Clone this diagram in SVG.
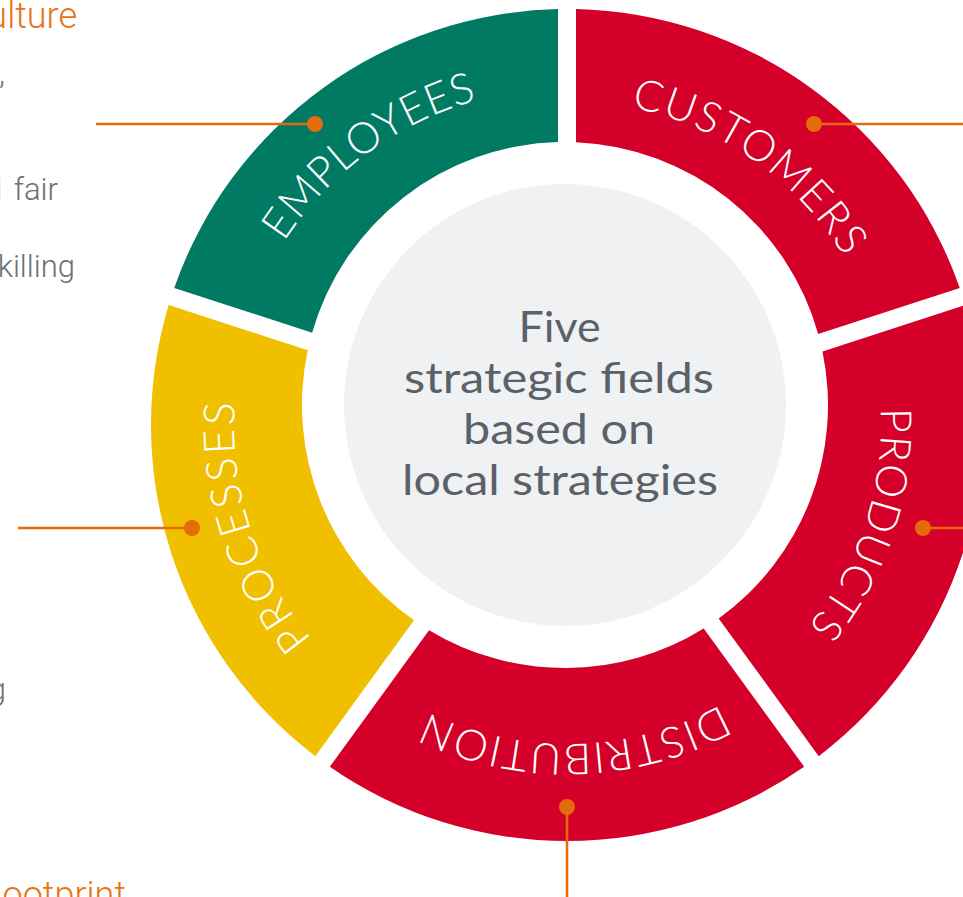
<svg xmlns="http://www.w3.org/2000/svg" xmlns:xlink="http://www.w3.org/1999/xlink" width="963" height="897" viewBox="0 0 963 897">
<style>
  .seg-label { font-family: Lato, "Open Sans", "DejaVu Sans", sans-serif; font-weight: 300; font-size: 43px; fill: #ffffff; }
  .center-text { font-family: Lato, "Open Sans", "DejaVu Sans", sans-serif; font-weight: 400; font-size: 42px; fill: #5B6168; text-anchor: middle; }
  .conn-line { stroke: #E46C0A; stroke-width: 2.6; fill: none; }
  .conn-dot { fill: #E46C0A; }
  .side { font-family: Roboto, "Liberation Sans", sans-serif; font-weight: 300; font-size: 31px; fill: #6D7075; text-anchor: end; }
  .side-head { font-family: Roboto, "Liberation Sans", sans-serif; font-weight: 300; font-size: 36px; fill: #E8741A; text-anchor: end; }
</style>
<defs>
  <path id="arc-employees" d="M264.9,574.3 A337,337 0 0 1 799.8,181.3"/>
  <path id="arc-customers" d="M338.3,195.5 A324,324 0 0 1 860.4,562.4"/>
  <path id="arc-products" d="M716.3,148.8 A314,314 0 0 1 521.1,735.6"/>
  <path id="arc-distribution" d="M882.5,472.2 A319,319 0 0 1 254.4,488.6"/>
  <path id="arc-processes" d="M613.9,754.7 A333,333 0 0 1 410.2,131.3"/>
</defs>

<g id="center">
  <circle cx="565" cy="405" r="221" fill="#F0F1F3"/>
  <text class="center-text" x="559.5" y="342" textLength="82" lengthAdjust="spacingAndGlyphs">Five</text>
  <text class="center-text" x="559" y="393" textLength="310" lengthAdjust="spacingAndGlyphs">strategic fields</text>
  <text class="center-text" x="559" y="444" textLength="192" lengthAdjust="spacingAndGlyphs">based on</text>
  <text class="center-text" x="560" y="495" textLength="316" lengthAdjust="spacingAndGlyphs">local strategies</text>
</g>

<g id="employees">
  <path d="M174.24,287.92 A416,416 0 0 1 558,9.1 L558,142.1 A263,263 0 0 0 312.13,332.72 Z" fill="#007A62"/>
  <text class="seg-label"><textPath xlink:href="#arc-employees" href="#arc-employees" startOffset="50%" text-anchor="middle" textLength="245" lengthAdjust="spacing">EMPLOYEES</textPath></text>
</g>

<g id="customers">
  <path d="M576,9.1 A416,416 0 0 1 959.76,287.92 L818.21,333.91 A263,263 0 0 0 576,142.2 Z" fill="#D40029"/>
  <text class="seg-label"><textPath xlink:href="#arc-customers" href="#arc-customers" startOffset="50%" text-anchor="middle" textLength="268" lengthAdjust="spacing">CUSTOMERS</textPath></text>
</g>

<g id="products">
  <path d="M965.33,305.04 A416,416 0 0 1 818.74,756.18 L718.66,618.44 A263,263 0 0 0 822.49,351.45 Z" fill="#D40029"/>
  <text class="seg-label"><textPath xlink:href="#arc-products" href="#arc-products" startOffset="50%" text-anchor="middle" textLength="235" lengthAdjust="spacing">PRODUCTS</textPath></text>
</g>

<g id="distribution">
  <path d="M804.18,766.76 A416,416 0 0 1 329.82,766.76 L429.07,630.15 A263,263 0 0 0 703.70,628.46 Z" fill="#D40029"/>
  <text class="seg-label"><textPath xlink:href="#arc-distribution" href="#arc-distribution" startOffset="50%" text-anchor="middle" textLength="304" lengthAdjust="spacing">DISTRIBUTION</textPath></text>
</g>

<g id="processes">
  <path d="M315.26,756.18 A416,416 0 0 1 168.67,305.04 L307.77,350.23 A263,263 0 0 0 413.97,620.31 Z" fill="#F0BF00"/>
  <text class="seg-label"><textPath xlink:href="#arc-processes" href="#arc-processes" startOffset="50%" text-anchor="middle" textLength="255" lengthAdjust="spacing">PROCESSES</textPath></text>
</g>

<g id="connectors">
  <line class="conn-line" x1="96" y1="124" x2="315" y2="124"/>
  <circle class="conn-dot" cx="315" cy="124" r="8"/>
  <line class="conn-line" x1="814" y1="124" x2="963" y2="124"/>
  <circle class="conn-dot" cx="814" cy="124" r="8"/>
  <line class="conn-line" x1="18" y1="528" x2="192" y2="528"/>
  <circle class="conn-dot" cx="192" cy="528" r="8"/>
  <line class="conn-line" x1="923" y1="528" x2="963" y2="528"/>
  <circle class="conn-dot" cx="923" cy="528" r="8"/>
  <line class="conn-line" x1="567" y1="807" x2="567" y2="897"/>
  <circle class="conn-dot" cx="567" cy="807" r="8"/>
</g>

<g id="side-text">
  <text class="side-head" x="77" y="28">ulture</text>
  <text class="side" x="5" y="84">,</text>
  <text class="side" x="58" y="200" word-spacing="4">d fair</text>
  <text class="side" x="75" y="277">killing</text>
  <text class="side" x="6" y="700">g</text>
  <text class="side-head" x="126" y="907">ootprint</text>
</g>
</svg>
